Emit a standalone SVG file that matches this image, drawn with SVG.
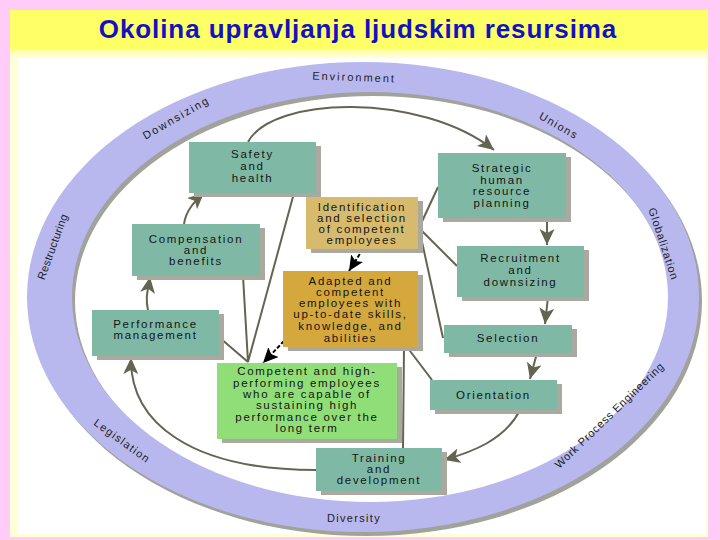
<svg xmlns="http://www.w3.org/2000/svg" width="720" height="540" viewBox="0 0 720 540">
<defs>
<style>
.box{stroke:none}
.teal{fill:#7fb9a5}
.sh{fill:#a9a9a0}
.t{font-family:"Liberation Sans",Arial,sans-serif;font-size:11.5px;letter-spacing:1.7px;fill:#151515;text-anchor:middle}
.ring{font-family:"Liberation Sans",Arial,sans-serif;font-size:11px;fill:#222;text-anchor:middle}
</style>
<linearGradient id="fadeTop" x1="0" y1="0" x2="0" y2="1">
<stop offset="0" stop-color="#ffff99"/>
<stop offset="1" stop-color="#ffffe8"/>
</linearGradient>
<marker id="ah" markerUnits="userSpaceOnUse" markerWidth="18" markerHeight="16" refX="16" refY="7.5" orient="auto">
<path d="M0,0 L16,7.5 L0,15 L4,7.5 z" fill="#646450"/>
</marker>
<marker id="ahb" markerUnits="userSpaceOnUse" markerWidth="16" markerHeight="16" refX="15" refY="7" orient="auto">
<path d="M0,0 L15,7 L0,14 L3,7 z" fill="#000"/>
</marker>
</defs>
<rect width="720" height="540" fill="#ffccf8"/>
<rect x="10" y="48" width="698" height="489" fill="#ffffd8"/>
<rect x="10" y="48" width="698" height="12" fill="url(#fadeTop)"/>
<rect x="18" y="58" width="687" height="476" fill="#ffffff"/>
<rect id="titlebar" x="10" y="10" width="698" height="39" fill="#ffff66"/>
<text x="358" y="38" font-family="'Liberation Sans',Arial,sans-serif" font-size="26" font-weight="bold" letter-spacing="0.9" fill="#1212c0" text-anchor="middle">Okolina upravljanja ljudskim resursima</text>

<g id="environment-ring">
<path transform="translate(3,4)" fill="#a2a29c" fill-rule="evenodd" d="M27 297 A336 235 0 1 0 699 297 A336 235 0 1 0 27 297 Z M72 297 A298 205 0 1 0 668 297 A298 205 0 1 0 72 297 Z"/>
<path fill="#b8b8ee" fill-rule="evenodd" d="M27 297 A336 235 0 1 0 699 297 A336 235 0 1 0 27 297 Z M72 297 A298 205 0 1 0 668 297 A298 205 0 1 0 72 297 Z"/>
<text class="ring" letter-spacing="2" transform="translate(354,81) rotate(2)">Environment</text>
<text class="ring" letter-spacing="1.9" transform="translate(178,121) rotate(-30)">Downsizing</text>
<text class="ring" letter-spacing="1.5" transform="translate(557,129) rotate(30)">Unions</text>
<text class="ring" letter-spacing="0.9" transform="translate(660,245) rotate(72)">Globalization</text>
<text class="ring" letter-spacing="0.7" transform="translate(612,418) rotate(-44)">Work Process Engineering</text>
<text class="ring" letter-spacing="1.3" transform="translate(354,522)">Diversity</text>
<text class="ring" letter-spacing="1.3" transform="translate(120,444) rotate(36)">Legislation</text>
<text class="ring" letter-spacing="0.3" transform="translate(56,248) rotate(-70)">Restructuring</text>
</g>

<g id="connectors" fill="none" stroke="#646450" stroke-width="2">
<path d="M248 142 C 272 96, 420 92, 494 150" marker-end="url(#ah)"/>
<path d="M547 218 L547 245" marker-end="url(#ah)"/>
<path d="M548 297 L545 324" marker-end="url(#ah)"/>
<path d="M537 353 L530 379" marker-end="url(#ah)"/>
<path d="M520 410 C 505 440, 472 452, 444 460" marker-end="url(#ah)"/>
<path d="M316 470 C 190 470, 130 422, 131 358" marker-end="url(#ah)"/>
<path d="M148 310 C 145 298, 148 290, 150 277" marker-end="url(#ah)"/>
<path d="M184 224 C 186 210, 195 201, 204 193" marker-end="url(#ah)"/>
<path d="M248 362 L220 338 M248 362 L243 276 M248 362 L294 193"/>
<path d="M419 228 L438 187 M419 228 L457 266 M419 228 L443 338"/>
<path d="M404 347 L403 448 M407 347 L432 380"/>
<path d="M363 249 L349 271" stroke="#000" stroke-dasharray="4 2" marker-end="url(#ahb)"/>
<path d="M284 341 L263 363" stroke="#000" stroke-dasharray="4 2" marker-end="url(#ahb)"/>
</g>

<g id="safety">
<rect class="sh" x="194" y="146" width="127" height="51"/>
<rect class="box teal" x="189" y="142" width="127" height="51"/>
<text class="t" x="252.5" y="158">Safety</text>
<text class="t" x="252.5" y="170">and</text>
<text class="t" x="252.5" y="182">health</text>
</g>
<g id="strategic">
<rect class="sh" x="443" y="157" width="128" height="65"/>
<rect class="box teal" x="438" y="153" width="128" height="65"/>
<text class="t" x="502" y="172">Strategic</text>
<text class="t" x="502" y="183.5">human</text>
<text class="t" x="502" y="195">resource</text>
<text class="t" x="502" y="206.5">planning</text>
</g>
<g id="recruitment">
<rect class="sh" x="462" y="250" width="127" height="51"/>
<rect class="box teal" x="457" y="246" width="127" height="51"/>
<text class="t" x="520.5" y="262">Recruitment</text>
<text class="t" x="520.5" y="274">and</text>
<text class="t" x="520.5" y="286">downsizing</text>
</g>
<g id="selection">
<rect class="sh" x="449" y="329" width="128" height="28"/>
<rect class="box teal" x="444" y="325" width="128" height="28"/>
<text class="t" x="508" y="342">Selection</text>
</g>
<g id="orientation">
<rect class="sh" x="435" y="384" width="127" height="30"/>
<rect class="box teal" x="430" y="380" width="127" height="30"/>
<text class="t" x="493.5" y="399">Orientation</text>
</g>
<g id="training">
<rect class="sh" x="321" y="452" width="126" height="43"/>
<rect class="box teal" x="316" y="448" width="126" height="43"/>
<text class="t" x="379" y="462">Training</text>
<text class="t" x="379" y="473">and</text>
<text class="t" x="379" y="484">development</text>
</g>
<g id="competent">
<rect class="sh" x="222" y="367" width="180" height="76"/>
<rect class="box" x="217" y="363" width="180" height="76" fill="#90de78"/>
<text class="t" x="307" y="375">Competent and high-</text>
<text class="t" x="307" y="387">performing employees</text>
<text class="t" x="307" y="398">who are capable of</text>
<text class="t" x="307" y="409">sustaining high</text>
<text class="t" x="307" y="421">performance over the</text>
<text class="t" x="307" y="432">long term</text>
</g>
<g id="adapted">
<rect class="sh" x="288" y="275" width="135" height="76"/>
<rect class="box" x="283" y="271" width="135" height="76" fill="#d4a83c"/>
<text class="t" x="350.5" y="285">Adapted and</text>
<text class="t" x="350.5" y="296">competent</text>
<text class="t" x="350.5" y="307">employees with</text>
<text class="t" x="350.5" y="318">up-to-date skills,</text>
<text class="t" x="350.5" y="330">knowledge, and</text>
<text class="t" x="350.5" y="342">abilities</text>
</g>
<g id="identification">
<rect class="sh" x="311" y="201" width="112" height="52"/>
<rect class="box" x="306" y="197" width="112" height="52" fill="#d6ba6e"/>
<text class="t" x="362" y="211">Identification</text>
<text class="t" x="362" y="222">and selection</text>
<text class="t" x="362" y="233">of competent</text>
<text class="t" x="362" y="244">employees</text>
</g>
<g id="compensation">
<rect class="sh" x="137" y="228" width="128" height="52"/>
<rect class="box teal" x="132" y="224" width="128" height="52"/>
<text class="t" x="196" y="243">Compensation</text>
<text class="t" x="196" y="254">and</text>
<text class="t" x="196" y="265">benefits</text>
</g>
<g id="performance">
<rect class="sh" x="97" y="314" width="127" height="46"/>
<rect class="box teal" x="92" y="310" width="127" height="46"/>
<text class="t" x="155.5" y="328">Performance</text>
<text class="t" x="155.5" y="339">management</text>
</g>
</svg>
